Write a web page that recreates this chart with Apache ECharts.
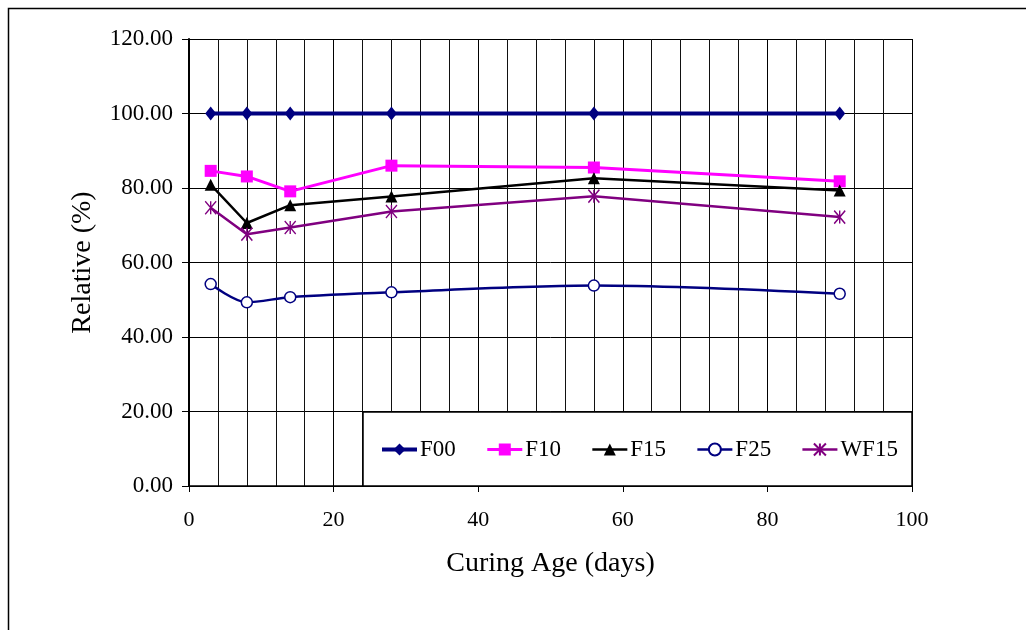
<!DOCTYPE html>
<html>
<head>
<meta charset="utf-8">
<script src="https://cdn.jsdelivr.net/npm/echarts@6/dist/echarts.min.js"></script>
<style>
html,body{margin:0;padding:0;background:#fff;}
#chart{width:1026px;height:630px;}
</style>
</head>
<body>
<div id="chart"></div>
<script>
var ages = [3, 8, 14, 28, 56, 90];
var seriesNames = ['F00', 'F10', 'F15', 'F25', 'WF15'];
var F00 = [100, 100, 100, 100, 100, 100];
var F10 = [84.6, 83.1, 79.1, 86.0, 85.5, 81.8];
var F15 = [80.9, 70.6, 75.4, 77.7, 82.6, 79.3];
var F25 = [54.2, 49.3, 50.7, 52.0, 53.8, 51.6];
var WF15 = [74.7, 67.6, 69.4, 73.7, 77.8, 72.2];
var yTicks = [0, 20, 40, 60, 80, 100, 120];
var xTicks = [0, 20, 40, 60, 80, 100];

function pairs(vals) { return ages.map(function (a, i) { return [a, vals[i]]; }); }

var FONT = '"Liberation Serif", "Times New Roman", serif';
var asterisk = 'path://M0 0 L10 12 M10 0 L0 12 M5 0 L5 12';

var chart = echarts.init(document.getElementById('chart'), null, {renderer: 'canvas'});
chart.setOption({
  backgroundColor: '#fff',
  animation: false,
  textStyle: {fontFamily: FONT},
  grid: {left: 189, right: 114, top: 39, bottom: 144, containLabel: false},
  graphic: [
    {type: 'rect', z: 0, silent: true, shape: {x: 8.5, y: 8.5, width: 1040, height: 640},
      style: {fill: 'none', stroke: '#000', lineWidth: 1.5}},
    {type: 'rect', z: 5, silent: true, shape: {x: 363, y: 412, width: 549, height: 74},
      style: {fill: '#fff', stroke: '#000', lineWidth: 1.5}}
  ],
  legend: {
    z: 10,
    left: 380, top: 438,
    padding: 0,
    itemWidth: 35, itemHeight: 15, itemGap: 30,
    lineStyle: {width: 'inherit'},
    data: seriesNames,
    textStyle: {fontFamily: FONT, fontSize: 23, color: '#000', padding: [0, 0, 0, -2]}
  },
  xAxis: {
    type: 'value', min: 0, max: 100, interval: 20,
    name: 'Curing Age (days)', nameLocation: 'middle', nameGap: 64,
    nameTextStyle: {fontFamily: FONT, fontSize: 28, color: '#000'},
    axisLine: {show: true, onZero: false, lineStyle: {color: '#000', width: 1.5}},
    axisTick: {show: true, inside: false, length: 6, lineStyle: {color: '#000', width: 1}},
    axisLabel: {fontFamily: FONT, fontSize: 22, color: '#000', margin: 23,
      customValues: xTicks},
    splitLine: {show: true, lineStyle: {color: '#000', width: 1}},
    minorTick: {show: false, splitNumber: 5},
    minorSplitLine: {show: true, lineStyle: {color: '#111', width: 1}}
  },
  yAxis: {
    type: 'value', min: 0, max: 120, interval: 20,
    name: 'Relative (%)', nameLocation: 'middle', nameGap: 92, nameRotate: 90,
    nameTextStyle: {fontFamily: FONT, fontSize: 28, color: '#000'},
    axisLine: {show: true, lineStyle: {color: '#000', width: 2}},
    axisTick: {show: true, inside: false, length: 7, lineStyle: {color: '#000', width: 1}},
    axisLabel: {fontFamily: FONT, fontSize: 23, color: '#000', margin: 16,
      formatter: function (v) { return v.toFixed(2); }},
    splitLine: {show: true, lineStyle: {color: '#000', width: 1}}
  },
  series: [
    {name: 'F00', type: 'line', data: pairs(F00), symbol: 'diamond', symbolSize: [11, 14],
      lineStyle: {color: '#000080', width: 4}, itemStyle: {color: '#000080'}},
    {name: 'F10', type: 'line', data: pairs(F10), symbol: 'rect', symbolSize: 12,
      lineStyle: {color: '#ff00ff', width: 3}, itemStyle: {color: '#ff00ff'}},
    {name: 'F15', type: 'line', data: pairs(F15), symbol: 'triangle', symbolSize: 12,
      lineStyle: {color: '#000000', width: 2.5}, itemStyle: {color: '#000000'}},
    {name: 'F25', type: 'line', data: pairs(F25), symbol: 'circle', symbolSize: 11, smooth: 0.3,
      lineStyle: {color: '#000080', width: 2.5},
      itemStyle: {color: '#ffffff', borderColor: '#000080', borderWidth: 1.5}},
    {name: 'WF15', type: 'line', data: pairs(WF15), symbol: asterisk, symbolSize: [11, 13],
      lineStyle: {color: '#800080', width: 2.5},
      itemStyle: {color: '#800080', borderColor: '#800080', borderWidth: 1.5}}
  ]
});
</script>
</body>
</html>
